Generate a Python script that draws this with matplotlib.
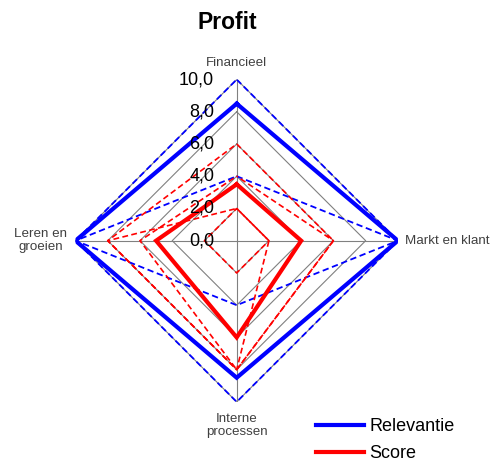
import numpy as np
import matplotlib
matplotlib.use('Agg')
import matplotlib.pyplot as plt
from matplotlib.lines import Line2D
from matplotlib.transforms import offset_copy

plt.rcParams['font.family'] = ['Liberation Sans', 'DejaVu Sans']

# ---- data ----
categories = ['Financieel', 'Markt en klant', 'Interne\nprocessen', 'Leren en\ngroeien']
relevantie = [8.5, 10.0, 8.5, 10.0]
relevantie_resp_a = [10.0, 10.0, 10.0, 10.0]
relevantie_resp_b = [4.0, 10.0, 4.0, 10.0]
score = [3.5, 4.0, 6.0, 5.0]
score_resp_a = [6.0, 6.0, 8.0, 8.0]
score_resp_b = [4.0, 6.0, 8.0, 6.0]
score_resp_c = [2.0, 2.0, 8.0, 8.0]
score_resp_d = [2.0, 2.0, 2.0, 2.0]
ring_values = [2, 4, 6, 8, 10]
tick_values = [0, 2, 4, 6, 8, 10]
tick_labels = ['0,0', '2,0', '4,0', '6,0', '8,0', '10,0']

n = len(categories)
theta = np.linspace(0, 2 * np.pi, n, endpoint=False)
theta_c = np.append(theta, theta[0])

def closed(v):
    return np.append(v, v[0])

W, H = 492, 461
fig = plt.figure(figsize=(W / 100, H / 100), dpi=100)
cx, cy, R = 236.7, 240.7, 161.2
ax = fig.add_axes([(cx - R) / W, (H - cy - R) / H, 2 * R / W, 2 * R / H], projection='polar')
ax.set_theta_offset(np.pi / 2)
ax.set_theta_direction(-1)
ax.set_ylim(0, 10)
ax.grid(False)
ax.set_xticks([])
ax.set_yticks([])
ax.spines['polar'].set_visible(False)

grid_col = '#808080'
for r in ring_values:
    ax.plot(theta_c, [r] * (n + 1), color=grid_col, lw=0.8, zorder=1)
for th in theta:
    ax.plot([th, th], [0, 10], color=grid_col, lw=0.8, zorder=1)

dash = (3.5, 2.0)
blue = '#0000FF'
red = '#FF0000'
ax.plot(theta_c, closed(relevantie_resp_a), color=blue, lw=1.3, linestyle=(0, dash), zorder=2)
ax.plot(theta_c, closed(relevantie_resp_b), color=blue, lw=1.3, linestyle=(0, dash), zorder=2)
for i, s in enumerate([score_resp_a, score_resp_b, score_resp_c, score_resp_d]):
    ax.plot(theta_c, closed(s), color=red, lw=1.2, linestyle=(i * 2.7, dash), zorder=2)

ax.plot(theta_c, closed(relevantie), color=blue, lw=3.0, zorder=3, solid_joinstyle='miter')
ax.plot(theta_c, closed(score), color=red, lw=3.0, zorder=3, solid_joinstyle='miter')

# radial tick labels
tr = offset_copy(ax.transData, fig=fig, x=-22.5, y=0, units='dots')
for v, lab in zip(tick_values, tick_labels):
    ax.text(0, v, lab, transform=tr, ha='right', va='center', fontsize=13, color='black', zorder=5)

lab_col = '#404040'
fs = 9.6
ax.text(theta[0], 11.0, categories[0], ha='center', va='center', fontsize=fs, color=lab_col)
ax.text(theta[1], 10.45, categories[1], ha='left', va='center', fontsize=fs, color=lab_col)
ax.text(theta[2], 11.45, categories[2], ha='center', va='center', fontsize=fs, color=lab_col, linespacing=1.08)
ax.text(theta[3], 12.15, categories[3], ha='center', va='center', fontsize=fs, color=lab_col, linespacing=1.08)

fig.text(227 / W, 1 - 22.5 / H, 'Profit', ha='center', va='center', fontsize=16.5, fontweight='bold')

handles = [Line2D([], [], color=blue, lw=3.0), Line2D([], [], color=red, lw=3.0)]
fig.legend(handles, ['Relevantie', 'Score'], loc='center left',
           bbox_to_anchor=(316 / W, 1 - 440 / H), frameon=False, fontsize=13,
           handlelength=2.65, handletextpad=0.3, labelspacing=0.55, borderpad=0, borderaxespad=0)

fig.savefig('out.png', dpi=100)
